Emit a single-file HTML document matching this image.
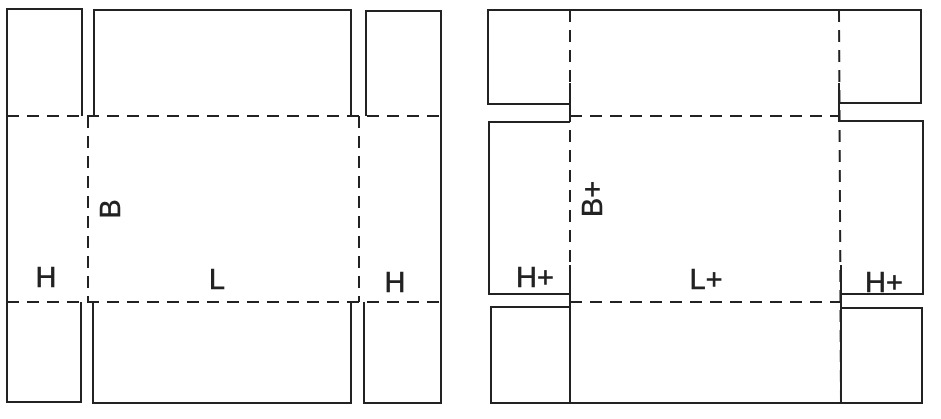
<!DOCTYPE html>
<html><head><style>body{margin:0;background:#fff}</style></head><body>
<svg width="941" height="419" xmlns="http://www.w3.org/2000/svg" style="display:block">
<g fill="none" stroke="#222" stroke-width="2">
<polyline points="82,116 82,9 7,9 7,402 81,402 81,302"/>
<polyline points="94,116 94,10 351,10 351,116"/>
<polyline points="366,116 366,11 441,11 441,403 364,403 364,302"/>
<polyline points="93,302 93,403 351,403 351,302"/>
<polyline points="570,104 488,104 488,10 921,10 921,103 839,103"/>
<polyline points="570,122 489,122 489,294 570,294"/>
<polyline points="839,121 923,121 923,294 841,294"/>
<polyline points="570,307 491,307 491,403 922,403 922,308 841,308"/>
<line x1="570" y1="83" x2="570" y2="122"/><line x1="839" y1="83" x2="839" y2="122"/>
<line x1="570" y1="265" x2="570" y2="403"/><line x1="841" y1="265" x2="841" y2="403"/>
</g>
<g fill="none" stroke="#222" stroke-width="2" stroke-dasharray="12,8">
<line x1="7" y1="116" x2="441" y2="116"/><line x1="7" y1="302" x2="441" y2="302"/>
<line x1="88" y1="116" x2="88" y2="302"/><line x1="359" y1="116" x2="359" y2="302"/>
<line x1="570" y1="10" x2="570" y2="403"/><line x1="839" y1="10" x2="841" y2="403"/>
<line x1="570" y1="116" x2="839" y2="116"/><line x1="570" y1="302" x2="841" y2="302"/>
</g>
<g font-family="Liberation Sans, sans-serif" font-size="29" fill="#222" stroke="#222" stroke-width="0.5">
<text x="46" y="287" text-anchor="middle">H</text>
<text x="217" y="289" text-anchor="middle">L</text>
<text x="395" y="292" text-anchor="middle">H</text>
<text transform="translate(120,209) rotate(-90)" text-anchor="middle">B</text>
<text x="535" y="287" text-anchor="middle">H+</text>
<text x="706" y="289" text-anchor="middle">L+</text>
<text x="884" y="292" text-anchor="middle">H+</text>
<text transform="translate(602,199) rotate(-90)" text-anchor="middle">B+</text>
</g>
</svg>
</body></html>
